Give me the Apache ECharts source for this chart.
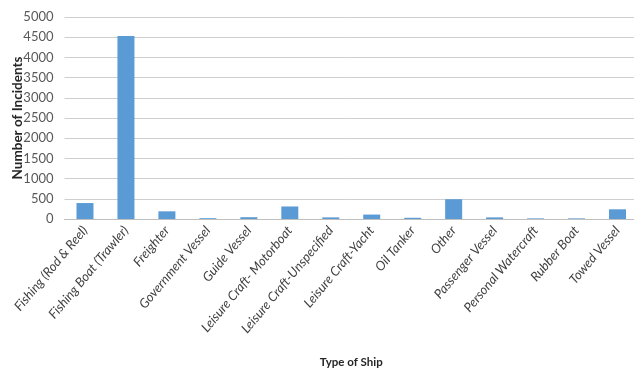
<!DOCTYPE html>
<html><head><meta charset="utf-8">
<script src="https://cdn.jsdelivr.net/npm/echarts@6/dist/echarts.min.js"></script>
<style>html,body{margin:0;padding:0;background:#fff}#c{width:634px;height:373px}</style>
</head><body><div id="c"></div>
<script>
const categories = ["Fishing (Rod & Reel)","Fishing Boat (Trawler)","Freighter","Government Vessel","Guide Vessel","Leisure Craft- Motorboat","Leisure Craft-Unspecified","Leisure Craft-Yacht","Oil Tanker","Other","Passenger Vessel","Personal Watercraft","Rubber Boat","Towed Vessel"];
const incidents = [395, 4530, 190, 20, 45, 310, 40, 110, 30, 490, 40, 15, 15, 240];
const yTicks = {min: 0, max: 5000, interval: 500};

const chart = echarts.init(document.getElementById('c'));
chart.setOption({
  animation: false,
  grid: {left: 64.5, right: -4, top: 17, bottom: 154, containLabel: false, outerBoundsMode: 'none'},
  xAxis: {
    type: 'category', data: categories,
    name: 'Type of Ship', nameLocation: 'middle', nameGap: 137, nameMoveOverlap: false,
    nameTextStyle: {fontFamily: 'Lato', fontWeight: 'bold', fontSize: 11.5, color: '#262626'},
    axisLine: {lineStyle: {color: '#bfbfbf'}},
    axisTick: {show: false},
    axisLabel: {rotate: 50, interval: 0, fontFamily: 'Lato', fontStyle: 'italic', fontSize: 13, color: '#404040', margin: 9}
  },
  yAxis: {
    type: 'value', min: yTicks.min, max: yTicks.max, interval: yTicks.interval,
    name: 'Number of Incidents', nameLocation: 'middle', nameGap: 40, nameMoveOverlap: false,
    nameTextStyle: {fontFamily: 'Lato', fontWeight: 'bold', fontSize: 13.5, color: '#262626'},
    axisLine: {show: false}, axisTick: {show: false},
    axisLabel: {fontFamily: 'Lato', fontSize: 13, color: '#595959', margin: 11, formatter: v => String(v)},
    splitLine: {lineStyle: {color: '#cfcfcf', width: 1}}
  },
  series: [{type: 'bar', data: incidents, barWidth: 17, itemStyle: {color: '#5b9bd5'}}]
});
</script></body></html>
